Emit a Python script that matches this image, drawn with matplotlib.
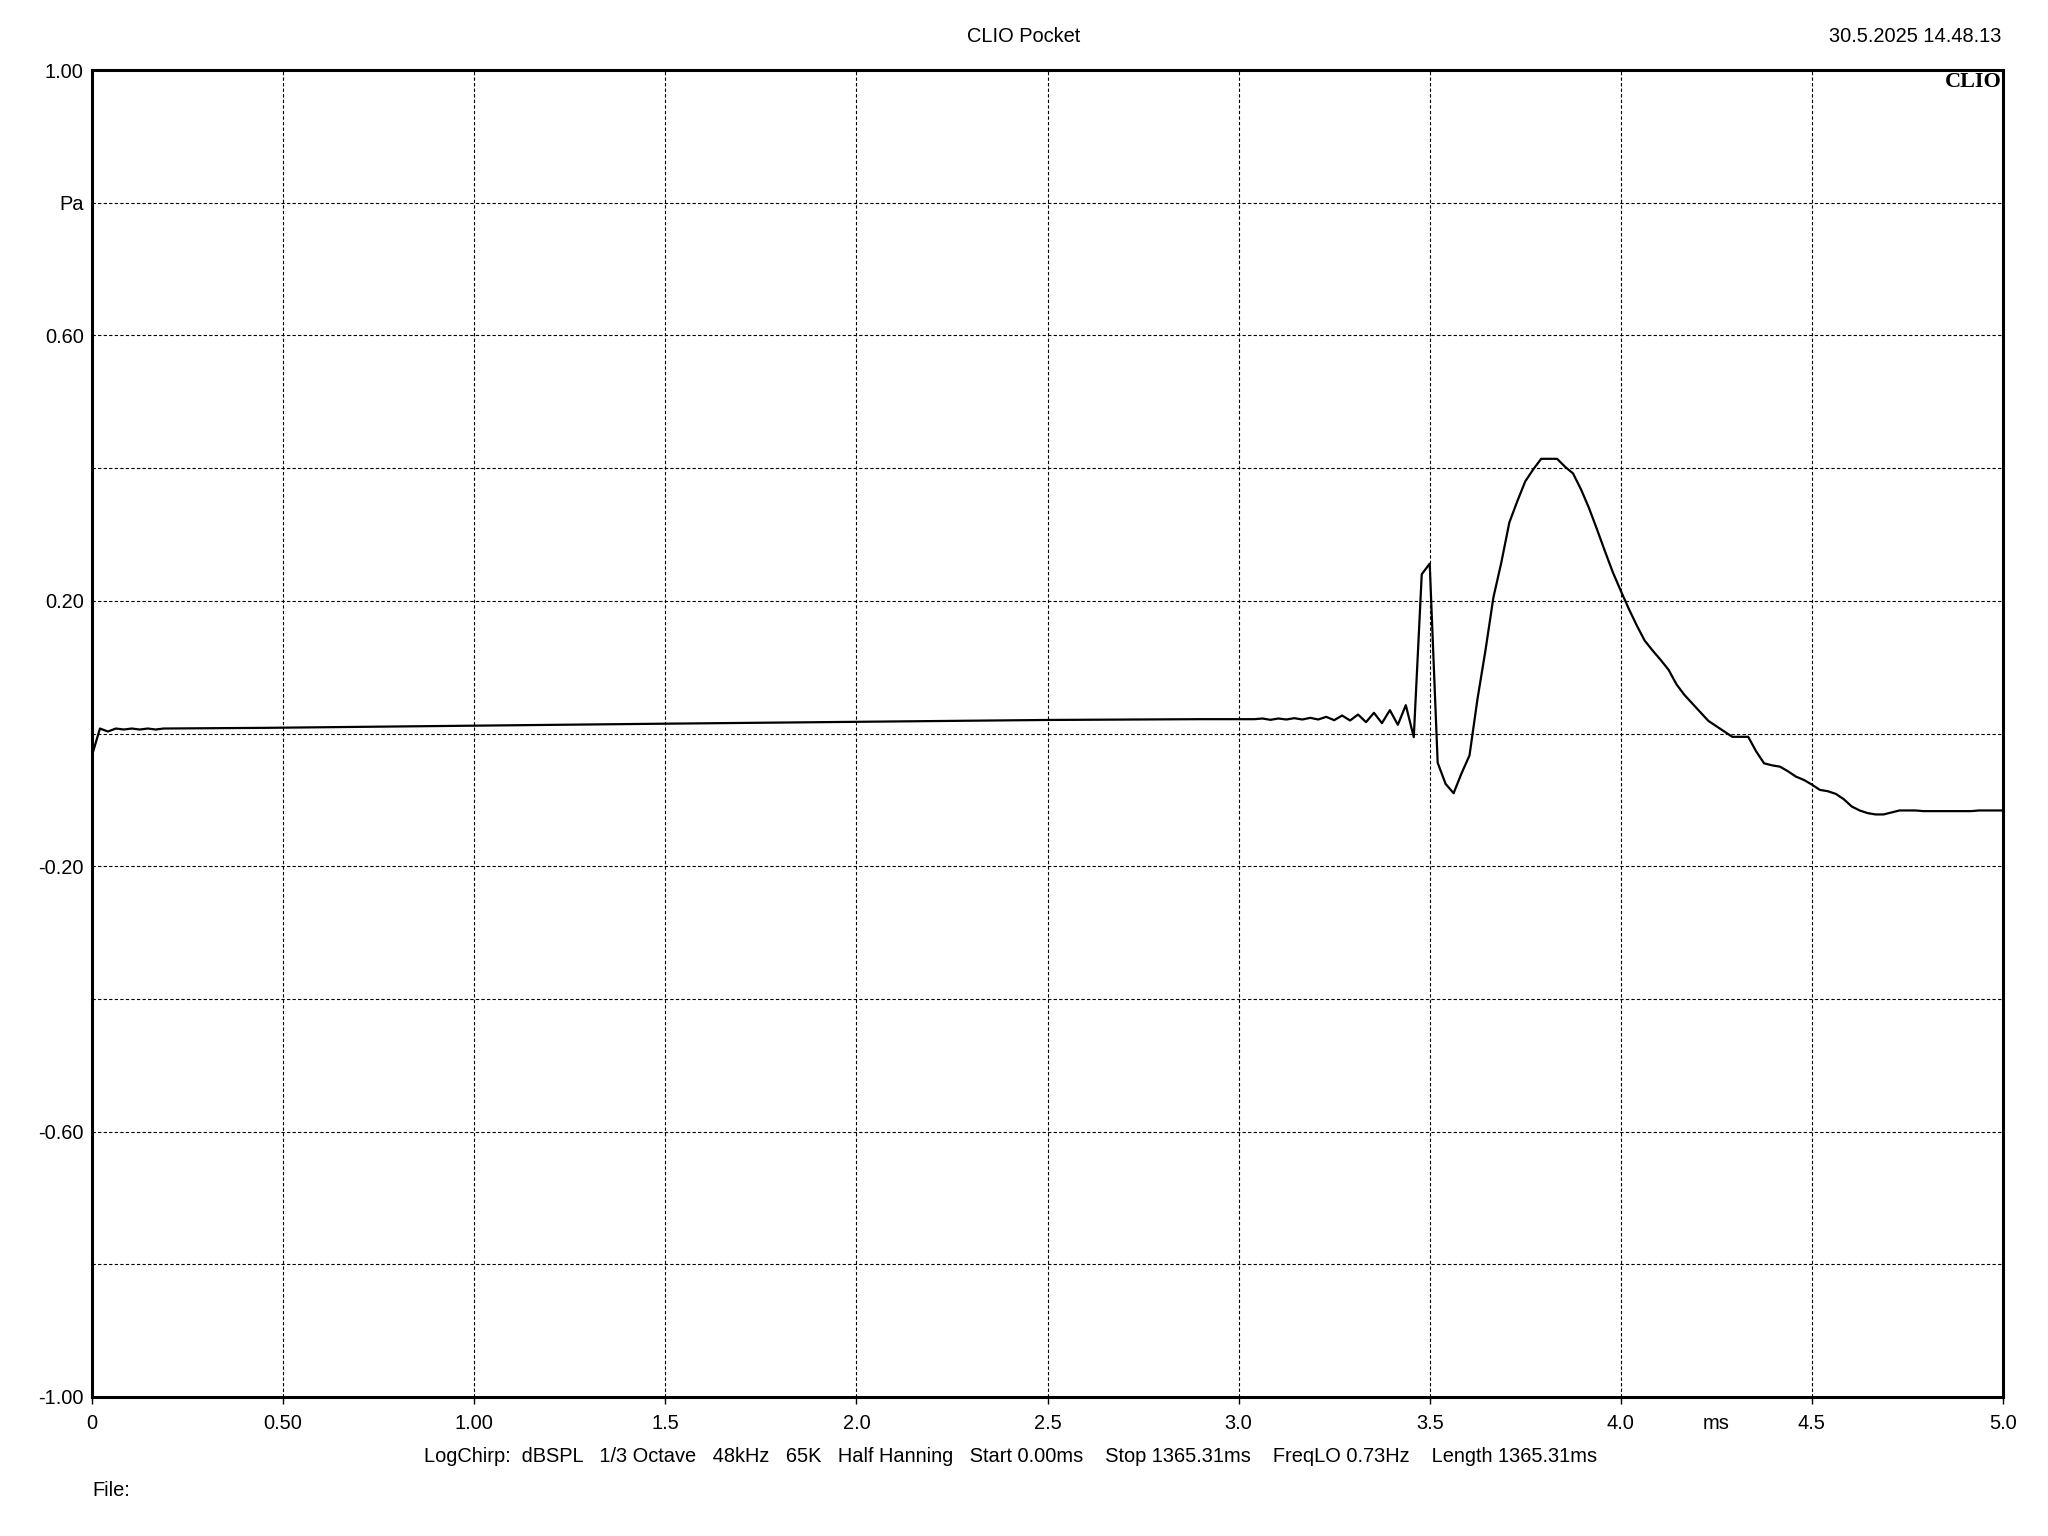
import matplotlib
matplotlib.use("Agg")
import matplotlib.pyplot as plt
import numpy as np

plt.rcParams["font.family"] = ["Liberation Sans", "DejaVu Sans"]

SAMPLE_RATE_KHZ = 48.0

# start of the impulse response, read point by point (ms, Pa)
head_ms = [0.0, 0.0208, 0.0417, 0.0625, 0.0833, 0.1042, 0.125, 0.1458, 0.1667, 0.1875,
           0.45, 1.0, 1.5, 2.0, 2.5, 2.9]
head_pa = [-0.033, 0.0075, 0.003, 0.0075, 0.006, 0.0075, 0.006, 0.0075, 0.006, 0.0075,
           0.0085, 0.0118, 0.0148, 0.0176, 0.0204, 0.0216]

# 48 kHz samples from n=146 to n=240 (ms = n / 48)
tail_start = 146
tail_pa = [
    0.0216, 0.0226, 0.0206, 0.0226, 0.0211, 0.0231, 0.0211, 0.0236, 0.0211, 0.0251,   # 146-155
    0.0201, 0.0271, 0.0196, 0.0286, 0.0171, 0.0312, 0.0156, 0.0352, 0.0131, 0.0427,   # 156-165
    -0.0055, 0.240, 0.256, -0.044, -0.076, -0.090, -0.060, -0.033, 0.052, 0.125,      # 166-175
    0.205, 0.258, 0.318, 0.350, 0.380, 0.398, 0.414, 0.414, 0.414, 0.402,             # 176-185
    0.392, 0.368, 0.340, 0.308, 0.275, 0.243, 0.215, 0.188, 0.163, 0.140,             # 186-195
    0.125, 0.111, 0.096, 0.074, 0.058, 0.045, 0.032, 0.019, 0.011, 0.003,             # 196-205
    -0.005, -0.005, -0.005, -0.027, -0.045, -0.048, -0.050, -0.057, -0.065, -0.070,   # 206-215
    -0.077, -0.085, -0.087, -0.091, -0.099, -0.110, -0.116, -0.120, -0.122, -0.122,   # 216-225
    -0.119, -0.116, -0.116, -0.116, -0.117, -0.117, -0.117, -0.117, -0.117, -0.117,   # 226-235
    -0.117, -0.116, -0.116, -0.116, -0.116,                                           # 236-240
]

x_ticks = [0, 0.5, 1.0, 1.5, 2.0, 2.5, 3.0, 3.5, 4.0, 4.5, 5.0]
x_labels = ["0", "0.50", "1.00", "1.5", "2.0", "2.5", "3.0", "3.5", "4.0", "4.5", "5.0"]
y_ticks = [-1.0, -0.8, -0.6, -0.4, -0.2, 0.0, 0.2, 0.4, 0.6, 0.8, 1.0]
y_labels = ["-1.00", "", "-0.60", "", "-0.20", "", "0.20", "", "0.60", "Pa", "1.00"]

title = "CLIO Pocket"
stamp = "30.5.2025 14.48.13"
footer = ("LogChirp:  dBSPL   1/3 Octave   48kHz   65K   Half Hanning   Start 0.00ms    "
          "Stop 1365.31ms    FreqLO 0.73Hz    Length 1365.31ms")

tail_ms = np.arange(tail_start, tail_start + len(tail_pa)) / SAMPLE_RATE_KHZ
t_ms = np.concatenate([head_ms, tail_ms])
p_pa = np.concatenate([head_pa, tail_pa])

FS = 14.4
TICK_LEN, TICK_PAD = 5, 7

W, H = 2048, 1536
fig = plt.figure(figsize=(W / 100, H / 100), dpi=100)
ax = fig.add_axes([92 / W, 1 - 1397 / H, (2003 - 92) / W, (1397 - 70) / H])

ax.plot(t_ms, p_pa, color="black", lw=1.6, zorder=3)

ax.set_xlim(0, 5)
ax.set_ylim(-1, 1)
ax.set_xticks(x_ticks)
ax.set_xticklabels(x_labels)
ax.set_yticks(y_ticks)
ax.set_yticklabels(y_labels)
ax.tick_params(axis="x", length=TICK_LEN, width=1, pad=TICK_PAD, labelsize=FS)
ax.tick_params(axis="y", length=0, pad=6, labelsize=FS)
ax.grid(True, color="black", lw=0.8, linestyle=(0, (3, 2)))
for s in ax.spines.values():
    s.set_linewidth(2.2)

# unit label sits on the tick-label row
ax.annotate("ms", xy=(4.25, 0), xycoords=("data", "axes fraction"),
            xytext=(0, -(TICK_LEN + TICK_PAD)), textcoords="offset points",
            ha="center", va="top", fontsize=FS)
ax.text(0.9995, 0.9985, "CLIO", transform=ax.transAxes, ha="right", va="top",
        fontsize=16, fontweight="bold", family="Liberation Serif")

fig.text(0.5, 1 - 37 / H, title, ha="center", va="center", fontsize=FS)
fig.text(2001 / W, 1 - 37 / H, stamp, ha="right", va="center", fontsize=FS)
fig.text(1011 / W, 1 - 1457 / H, footer, ha="center", va="center", fontsize=FS)
fig.text(92 / W, 1 - 1491 / H, "File:", ha="left", va="center", fontsize=FS)

fig.savefig("out.png", dpi=100)
